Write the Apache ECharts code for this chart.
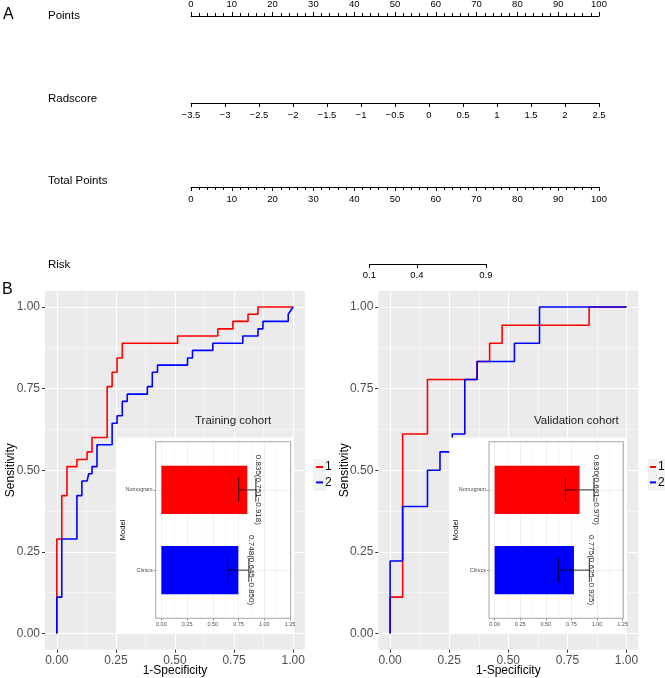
<!DOCTYPE html>
<html>
<head>
<meta charset="utf-8">
<script src="https://cdn.jsdelivr.net/npm/echarts@6/dist/echarts.min.js"></script>
<style>
html, body { margin: 0; padding: 0; background: #fff; }
#chart { width: 665px; height: 678px; }
</style>
</head>
<body>
<div id="chart"></div>
<script>
const FONT = '"Liberation Sans", Arial, sans-serif'

// ---- nomogram scales (panel A)
const pointsRange = [0, 100]
const pointsStep = 10
const radscoreRange = [-3.5, 2.5]
const radscoreStep = 0.5
const totalPointsRange = [0, 100]
const riskTicks = [0.1, 0.4, 0.9]
// total points = intercept + slope * logit(risk)
const riskIntercept = 58.0
const riskSlope = 6.5

// ---- ROC curves (panel B), vertices of the step paths
const trainNomFpr = [0, 0, 0.021, 0.021, 0.043, 0.043, 0.085, 0.085, 0.128, 0.128, 0.149, 0.149, 0.213, 0.213, 0.234, 0.234, 0.255, 0.255, 0.277, 0.277, 0.511, 0.511, 0.681, 0.681, 0.745, 0.745, 0.809, 0.809, 0.851, 0.851, 1]
const trainNomTpr = [0, 0.289, 0.289, 0.422, 0.422, 0.511, 0.511, 0.533, 0.533, 0.556, 0.556, 0.6, 0.6, 0.756, 0.756, 0.8, 0.8, 0.844, 0.844, 0.889, 0.889, 0.911, 0.911, 0.933, 0.933, 0.956, 0.956, 0.978, 0.978, 1, 1]
const trainCliFpr = [0, 0, 0.021, 0.021, 0.085, 0.085, 0.106, 0.106, 0.128, 0.135, 0.149, 0.149, 0.170, 0.170, 0.234, 0.234, 0.255, 0.255, 0.277, 0.277, 0.298, 0.298, 0.383, 0.383, 0.404, 0.404, 0.426, 0.426, 0.553, 0.553, 0.574, 0.574, 0.660, 0.660, 0.787, 0.787, 0.851, 0.851, 0.872, 0.872, 0.979, 0.979, 1]
const trainCliTpr = [0, 0.111, 0.111, 0.289, 0.289, 0.422, 0.422, 0.467, 0.467, 0.489, 0.489, 0.511, 0.511, 0.578, 0.578, 0.644, 0.644, 0.667, 0.667, 0.711, 0.711, 0.733, 0.733, 0.756, 0.756, 0.8, 0.8, 0.822, 0.822, 0.844, 0.844, 0.867, 0.867, 0.889, 0.889, 0.911, 0.911, 0.933, 0.933, 0.956, 0.956, 0.978, 1]
const validNomFpr = [0, 0, 0.053, 0.053, 0.158, 0.158, 0.368, 0.368, 0.421, 0.421, 0.474, 0.474, 0.842, 0.842, 1]
const validNomTpr = [0, 0.111, 0.111, 0.611, 0.611, 0.778, 0.778, 0.833, 0.833, 0.889, 0.889, 0.944, 0.944, 1, 1]
const validCliFpr = [0, 0, 0.053, 0.053, 0.158, 0.158, 0.211, 0.211, 0.263, 0.263, 0.316, 0.316, 0.368, 0.368, 0.526, 0.526, 0.632, 0.632, 1]
const validCliTpr = [0, 0.222, 0.222, 0.389, 0.389, 0.5, 0.5, 0.556, 0.556, 0.611, 0.611, 0.778, 0.778, 0.833, 0.833, 0.889, 0.889, 1, 1]

const rocTicks = [0, 0.25, 0.5, 0.75, 1]
const rocMinorTicks = [0.125, 0.375, 0.625, 0.875]
// region of the ROC panel covered by the inset: [x0, y0, x1, y1]
const insetBox = [0.25, 0, 1, 0.6]

// ---- AUC insets
const insetModels = ['Clinics', 'Nomogram']
const insetColors = ['#0000FF', '#FF0000']
const trainAuc = [0.748, 0.835]
const trainLower = [0.645, 0.751]
const trainUpper = [0.850, 0.918]
const validAuc = [0.775, 0.830]
const validLower = [0.625, 0.691]
const validUpper = [0.925, 0.970]
const insetTicks = [0, 0.25, 0.5, 0.75, 1, 1.25]
const insetMinorTicks = [0.125, 0.375, 0.625, 0.875, 1.125]

const NOMO_LEFT = 191
const NOMO_WIDTH = 408

const logit = p => Math.log(p / (1 - p))
const riskToPoints = p => riskIntercept + riskSlope * logit(p)
const riskPts = riskTicks.map(riskToPoints)
const riskMin = riskPts[0]
const riskMax = riskPts[riskPts.length - 1]
const pxOfPoints = v => NOMO_LEFT + NOMO_WIDTH * (v - totalPointsRange[0]) / (totalPointsRange[1] - totalPointsRange[0])

const fmtMinus = v => String(v).replace('-', '\u2212')
const pairs = (xs, ys) => xs.map((x, i) => [x, ys[i]])

const nomoAxis = (gridIndex, position, range, step, minor) => ({
  gridIndex,
  type: 'value',
  position,
  min: range[0],
  max: range[1],
  interval: step,
  axisLine: { show: true, onZero: false, lineStyle: { color: '#000', width: 1 } },
  axisTick: { show: true, length: 4, lineStyle: { color: '#000', width: 1 } },
  minorTick: { show: !!minor, splitNumber: 5, length: 3, lineStyle: { color: '#000', width: 1 } },
  axisLabel: { fontSize: 9.5, color: '#000', fontFamily: FONT, margin: 7, formatter: fmtMinus },
  splitLine: { show: false }
})

const hiddenY = gridIndex => ({ gridIndex, type: 'value', min: 0, max: 1, show: false })

const rocAxis = (gridIndex, isX, minor) => {
  const base = {
    gridIndex,
    type: 'value',
    min: -0.05,
    max: 1.05,
    axisLine: { show: false, onZero: false },
    z: 0
  }
  if (minor) {
    return {
      ...base,
      axisTick: { show: false, customValues: rocMinorTicks },
      axisLabel: { show: false },
      splitLine: { show: true, lineStyle: { color: '#fff', width: 0.5 } }
    }
  }
  return {
    ...base,
    position: isX ? 'bottom' : 'left',
    axisTick: { show: true, length: 3, customValues: rocTicks, lineStyle: { color: '#333' } },
    axisLabel: {
      customValues: rocTicks,
      formatter: v => v.toFixed(2),
      fontSize: 12,
      color: '#4D4D4D',
      fontFamily: FONT,
      margin: 5
    },
    splitLine: { show: true, lineStyle: { color: '#fff', width: 1 } },
    name: isX ? '1-Specificity' : 'Sensitivity',
    nameLocation: 'middle',
    nameRotate: isX ? 0 : 90,
    nameMoveOverlap: false,
    nameGap: isX ? 15 : 28,
    nameTextStyle: { fontSize: 12, color: '#000', fontFamily: FONT }
  }
}

const insetX = (gridIndex, minor) => ({
  gridIndex,
  type: 'value',
  min: -0.055,
  max: 1.257,
  z: 5,
  axisLine: { show: false, onZero: false },
  axisTick: minor
    ? { show: false, customValues: insetMinorTicks }
    : { show: true, length: 2, customValues: insetTicks, lineStyle: { color: '#333', width: 0.6 } },
  axisLabel: minor
    ? { show: false }
    : { customValues: insetTicks, formatter: v => v.toFixed(2), fontSize: 5.5, color: '#4D4D4D', fontFamily: FONT, margin: 3 },
  splitLine: { show: true, lineStyle: { color: '#EBEBEB', width: minor ? 0.4 : 0.8 } }
})

const insetY = gridIndex => ({
  gridIndex,
  type: 'value',
  min: 0.4,
  max: 2.6,
  z: 5,
  axisLine: { show: false, onZero: false },
  axisTick: { show: true, length: 2, customValues: [1, 2], lineStyle: { color: '#333', width: 0.6 } },
  axisLabel: {
    customValues: [1, 2],
    formatter: v => insetModels[Math.round(v) - 1],
    fontSize: 5.5,
    color: '#4D4D4D',
    fontFamily: FONT,
    margin: 3
  },
  splitLine: { show: true, lineStyle: { color: '#EBEBEB', width: 0.8 } },
  name: 'Model',
  nameLocation: 'middle',
  nameRotate: 90,
  nameMoveOverlap: false,
  nameGap: 29,
  nameTextStyle: { fontSize: 7.5, color: '#000', fontFamily: FONT }
})

const rocLine = (name, color, xs, ys, axisIndex) => ({
  name,
  type: 'line',
  xAxisIndex: axisIndex,
  yAxisIndex: axisIndex,
  data: pairs(xs, ys),
  showSymbol: false,
  symbol: 'none',
  lineStyle: { color, width: 1.6 },
  itemStyle: { color },
  z: 2,
  silent: true
})

const coverSeries = axisIndex => ({
  type: 'custom',
  xAxisIndex: axisIndex,
  yAxisIndex: axisIndex,
  z: 3,
  silent: true,
  encode: { x: [0, 2], y: [1, 3] },
  data: [insetBox],
  renderItem: (params, api) => {
    const p0 = api.coord([api.value(0), api.value(3)])
    const p1 = api.coord([api.value(2), api.value(1)])
    return {
      type: 'rect',
      shape: { x: p0[0], y: p0[1], width: p1[0] - p0[0], height: p1[1] - p0[1] },
      style: { fill: '#fff' }
    }
  }
})

const aucSeries = (axisIndex, yIndex, auc, lower, upper) => ({
  type: 'custom',
  xAxisIndex: axisIndex,
  yAxisIndex: yIndex,
  z: 7,
  silent: true,
  encode: { x: 0, y: 1 },
  data: auc.map((a, i) => [a, i + 1, lower[i], upper[i]]),
  renderItem: (params, api) => {
    const i = params.dataIndex
    const a = api.value(0)
    const pos = api.value(1)
    const lo = api.value(2)
    const hi = api.value(3)
    const p0 = api.coord([0, pos])
    const pa = api.coord([a, pos])
    const pl = api.coord([lo, pos])
    const ph = api.coord([hi, pos])
    const h = api.size([0, 0.6])[1]
    const cap = api.size([0, 0.3])[1]
    const label = a.toFixed(3) + '(' + lo.toFixed(3) + '\u2212' + hi.toFixed(3) + ')'
    return {
      type: 'group',
      children: [
        {
          type: 'rect',
          shape: { x: p0[0], y: p0[1] - h / 2, width: pa[0] - p0[0], height: h },
          style: { fill: insetColors[i] }
        },
        {
          type: 'line',
          shape: { x1: pl[0], y1: pl[1], x2: ph[0], y2: ph[1] },
          style: { stroke: '#000', lineWidth: 0.8 }
        },
        {
          type: 'line',
          shape: { x1: pl[0], y1: pl[1] - cap / 2, x2: pl[0], y2: pl[1] + cap / 2 },
          style: { stroke: '#000', lineWidth: 0.8 }
        },
        {
          type: 'line',
          shape: { x1: ph[0], y1: ph[1] - cap / 2, x2: ph[0], y2: ph[1] + cap / 2 },
          style: { stroke: '#000', lineWidth: 0.8 }
        },
        {
          type: 'text',
          x: ph[0] + 2,
          y: ph[1],
          rotation: -Math.PI / 2,
          style: {
            text: label,
            fontSize: 8,
            fontFamily: FONT,
            fill: '#222',
            align: 'center',
            verticalAlign: 'middle'
          }
        }
      ]
    }
  }
})

const legendFor = (left, itemWidth) => ({
  data: ['1', '2'],
  left,
  top: 460,
  orient: 'vertical',
  padding: 0,
  icon: 'rect',
  itemWidth,
  itemHeight: 2,
  itemGap: 1.4,
  selectedMode: false,
  textStyle: { fontSize: 12, color: '#000', fontFamily: FONT, lineHeight: 14, padding: [0, 0, 0, -3] }
})

const label = (text, left, top, fontSize, extra) => ({
  type: 'text',
  left,
  top,
  z: 20,
  style: { text, fontSize, fontFamily: FONT, fill: '#000', ...(extra || {}) }
})

const gridBase = { outerBoundsMode: 'none', containLabel: false }

const chart = echarts.init(document.getElementById('chart'), null, { renderer: 'canvas' })

chart.setOption({
  animation: false,
  backgroundColor: '#fff',
  textStyle: { fontFamily: FONT },
  grid: [
    { ...gridBase, left: NOMO_LEFT, width: NOMO_WIDTH, top: 16, height: 1 },
    { ...gridBase, left: NOMO_LEFT, width: NOMO_WIDTH, top: 102, height: 1 },
    { ...gridBase, left: NOMO_LEFT, width: NOMO_WIDTH, top: 186, height: 1 },
    { ...gridBase, left: pxOfPoints(riskMin), width: pxOfPoints(riskMax) - pxOfPoints(riskMin), top: 263, height: 1 },
    { ...gridBase, left: 45, top: 290.7, width: 260, height: 359, show: true, backgroundColor: '#EBEBEB', borderWidth: 0 },
    { ...gridBase, left: 378.3, top: 290.7, width: 260, height: 359, show: true, backgroundColor: '#EBEBEB', borderWidth: 0 },
    { ...gridBase, left: 155.7, top: 441.7, width: 135, height: 176.6, show: true, backgroundColor: 'transparent', borderColor: '#A6A6A6', borderWidth: 1, z: 6 },
    { ...gridBase, left: 489, top: 441.7, width: 134.3, height: 176.6, show: true, backgroundColor: 'transparent', borderColor: '#A6A6A6', borderWidth: 1, z: 6 }
  ],
  xAxis: [
    nomoAxis(0, 'top', pointsRange, pointsStep, true),
    nomoAxis(1, 'bottom', radscoreRange, radscoreStep, false),
    nomoAxis(2, 'bottom', totalPointsRange, pointsStep, true),
    {
      gridIndex: 3,
      type: 'value',
      position: 'bottom',
      min: riskMin,
      max: riskMax,
      axisLine: { show: true, onZero: false, lineStyle: { color: '#000', width: 1 } },
      axisTick: { show: true, length: 4, customValues: riskPts, lineStyle: { color: '#000', width: 1 } },
      axisLabel: {
        customValues: riskPts,
        fontSize: 9.5,
        color: '#000',
        fontFamily: FONT,
        margin: 6,
        formatter: v => {
          let best = 0
          riskPts.forEach((p, i) => { if (Math.abs(p - v) < Math.abs(riskPts[best] - v)) best = i })
          return String(riskTicks[best])
        }
      },
      splitLine: { show: false }
    },
    rocAxis(4, true, false),
    rocAxis(4, true, true),
    rocAxis(5, true, false),
    rocAxis(5, true, true),
    insetX(6, false),
    insetX(6, true),
    insetX(7, false),
    insetX(7, true)
  ],
  yAxis: [
    hiddenY(0),
    hiddenY(1),
    hiddenY(2),
    hiddenY(3),
    rocAxis(4, false, false),
    rocAxis(4, false, true),
    rocAxis(5, false, false),
    rocAxis(5, false, true),
    insetY(6),
    insetY(7)
  ],
  legend: [legendFor(316, 7), legendFor(650, 6)],
  series: [
    rocLine('1', '#FF0000', trainNomFpr, trainNomTpr, 4),
    rocLine('2', '#0000FF', trainCliFpr, trainCliTpr, 4),
    coverSeries(4),
    rocLine('1', '#FF0000', validNomFpr, validNomTpr, 6),
    rocLine('2', '#0000FF', validCliFpr, validCliTpr, 6),
    coverSeries(6),
    aucSeries(8, 8, trainAuc, trainLower, trainUpper),
    aucSeries(10, 9, validAuc, validLower, validUpper)
  ],
  graphic: [
    label('A', 3, 7, 16),
    label('B', 2, 282, 16),
    label('Points', 48, 10, 11.5),
    label('Radscore', 48, 93, 11.5),
    label('Total Points', 48, 175, 11.5),
    label('Risk', 48, 259, 11.5),
    label('Training cohort', 195, 415, 11.5, { fill: '#222' }),
    label('Validation cohort', 534, 415, 11.5, { fill: '#222' }),
    { type: 'rect', left: 313, top: 459, z: -1, shape: { width: 14, height: 32 }, style: { fill: '#F2F2F2' } },
    { type: 'rect', left: 648, top: 459, z: -1, shape: { width: 17, height: 32 }, style: { fill: '#F2F2F2' } }
  ]
})
</script>
</body>
</html>
